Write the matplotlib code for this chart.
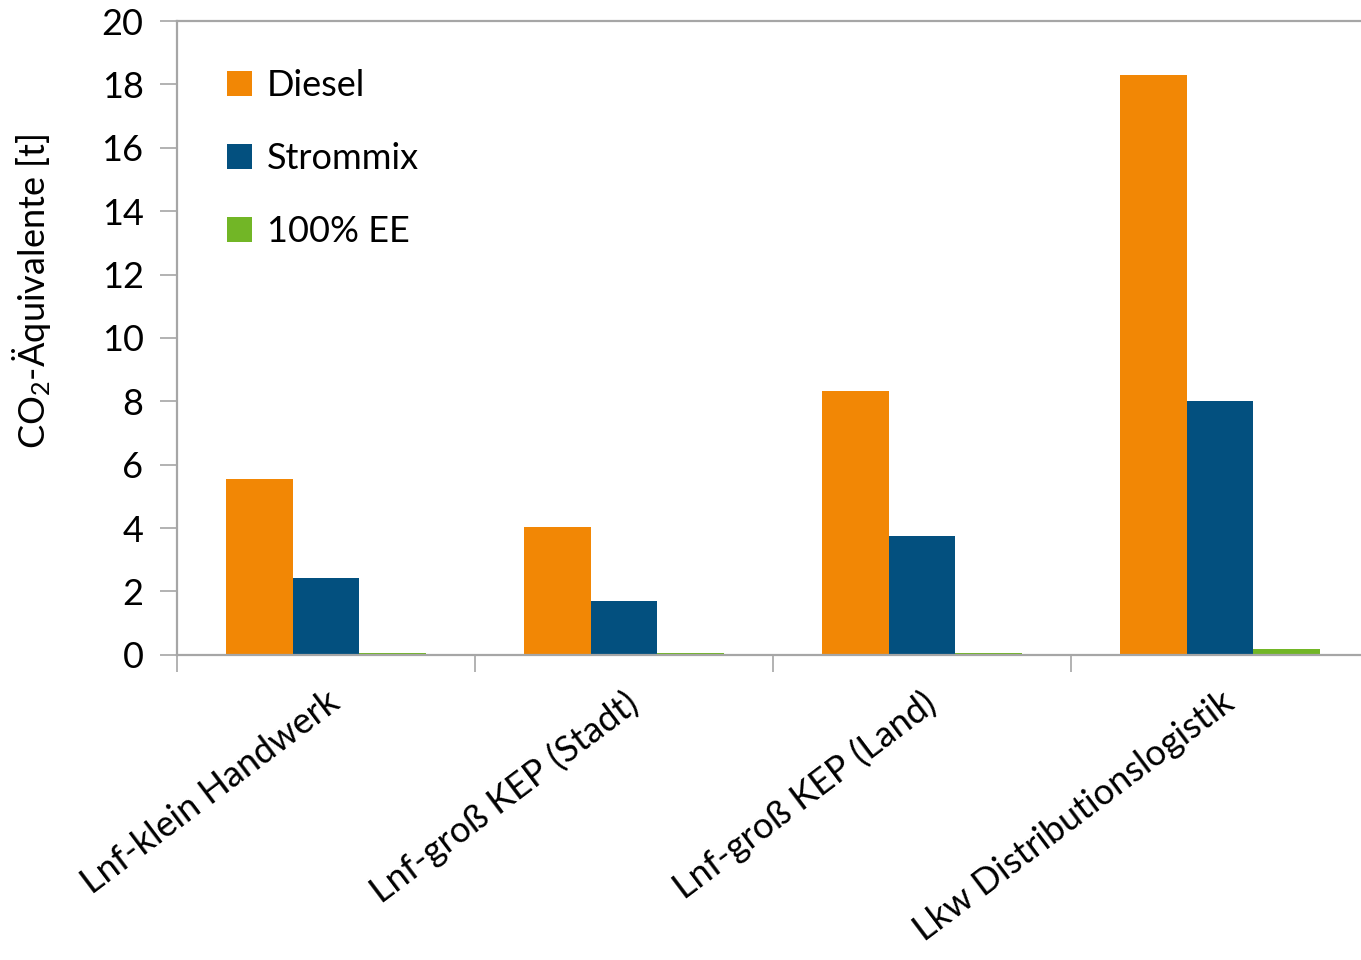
import matplotlib
matplotlib.use('Agg')

import matplotlib.pyplot as plt
import numpy as np

plt.rcParams['font.family'] = ['Lato', 'DejaVu Sans']
plt.rcParams['mathtext.fontset'] = 'custom'
plt.rcParams['mathtext.rm'] = 'Lato'
plt.rcParams['mathtext.it'] = 'Lato'

categories = ['Lnf-klein Handwerk', 'Lnf-groß KEP (Stadt)',
              'Lnf-groß KEP (Land)', 'Lkw Distributionslogistik']
series = ['Diesel', 'Strommix', '100% EE']
diesel = [5.55, 4.04, 8.33, 18.3]
strommix = [2.43, 1.70, 3.75, 8.0]
ee = [0.05, 0.05, 0.05, 0.17]
colors = ['#F28705', '#03507F', '#72B626']

AXIS_GREY = '#A6A6A6'
FS = 26


def main():
    fig = plt.figure(figsize=(13.61, 9.6), dpi=100)
    ax = fig.add_axes([0.13, 0.318, 0.87, 0.66])

    x = np.arange(len(categories))
    w = 0.223
    for i, (vals, name, col) in enumerate(zip([diesel, strommix, ee], series, colors)):
        ax.bar(x + (i - 1) * w, vals, w, color=col, label=name)

    ax.set_xlim(-0.5, 3.473)
    ax.set_ylim(0, 20)
    ax.set_yticks(np.arange(0, 21, 2))
    ax.tick_params(axis='y', labelsize=FS, length=12, width=1.2, color=AXIS_GREY, pad=12)

    # category ticks sit between groups, labels under group centres
    ax.set_xticks(np.arange(len(categories)) - 0.5)
    ax.set_xticklabels([])
    ax.tick_params(axis='x', length=12, width=1.2, color=AXIS_GREY)
    ax.set_xticks(x, minor=True)
    ax.set_xticklabels(categories, minor=True, rotation=37, ha='right',
                       rotation_mode='anchor', fontsize=FS)
    ax.tick_params(axis='x', which='minor', length=0, pad=22)

    for side in ['left', 'bottom', 'top']:
        ax.spines[side].set_color(AXIS_GREY)
        ax.spines[side].set_linewidth(1.6)
    ax.spines['right'].set_visible(False)

    ax.set_ylabel('CO$_2$-Äquivalente [t]', fontsize=FS)
    ax.yaxis.set_label_coords(-0.105, 0.573)

    ax.legend(loc='upper left', bbox_to_anchor=(0.015, 0.975), frameon=False,
              fontsize=FS, handlelength=0.7, handleheight=0.7,
              handletextpad=0.4, labelspacing=1.1)

    fig.savefig('out.png', dpi=100)


if __name__ == '__main__':
    main()
